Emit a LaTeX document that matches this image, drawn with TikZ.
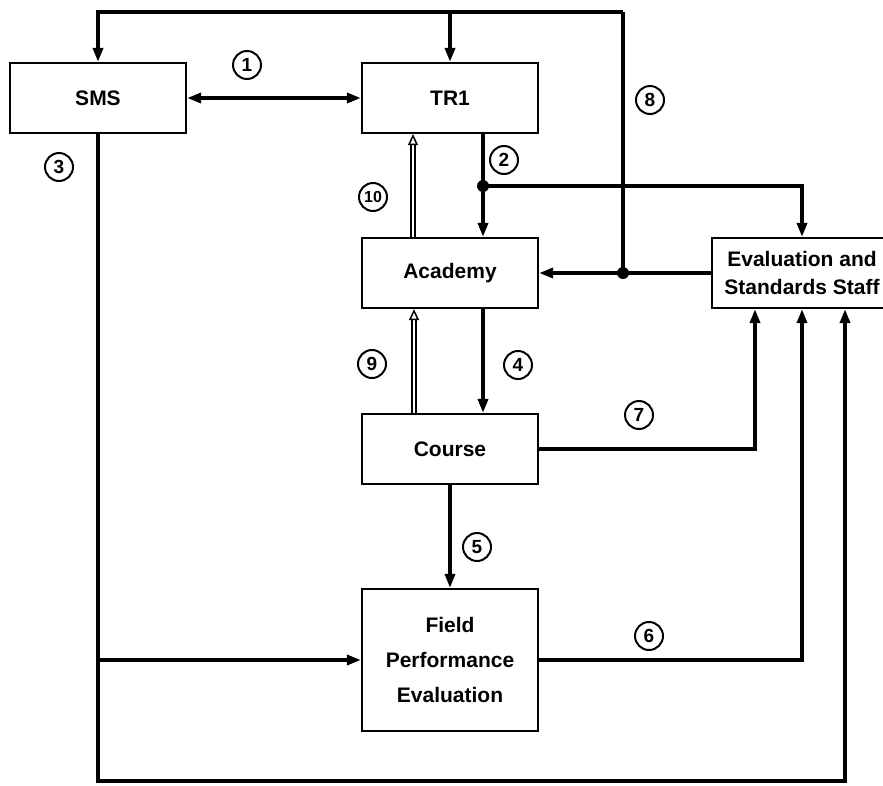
\documentclass[tikz,border=0pt]{standalone}
\usepackage{fontspec}
\setmainfont{Liberation Sans}
\usetikzlibrary{arrows.meta}
\begin{document}
\begin{tikzpicture}[x=1pt, y=-1pt,
    >={Triangle[length=14pt, width=10pt]},
    box/.style={draw, line width=2.2pt, minimum width=176pt, minimum height=70pt,
        inner sep=0pt, align=center, font=\fontsize{21}{28}\selectfont\bfseries},
    conn/.style={line width=3.4pt},
    hollow/.style={line width=1.5pt, double=white, double distance=2.6pt,
        -{Triangle[open, length=11pt, width=10pt, line width=1.5pt]}},
    num/.style={draw, circle, line width=2pt, minimum size=28pt, inner sep=0pt,
        font=\fontsize{19}{19}\selectfont\bfseries}]
    \useasboundingbox (0,0) rectangle (883,785);
    % Cajas
    \node[box] (sms) at (98,98) {SMS};
    \node[box] (tr1) at (450,98) {TR1};
    \node[box] (acad) at (450,273) {Academy};
    \node[box] (crs) at (450,449) {Course};
    \node[box, minimum height=142pt, font=\fontsize{21}{35}\selectfont\bfseries]
        (field) at (450,660) {Field\\Performance\\Evaluation};
    \node[box, minimum width=180pt] (eval) at (802,273) {Evaluation and\\Standards Staff};
    % Puntos de cruce
    \coordinate (dota) at (483,186);
    \coordinate (dotb) at (623,273);
    \coordinate (top) at (623,12);
    \coordinate (bot) at (845,781);
    % Flechas
    \draw[conn, <->] (sms.east) -- (tr1.west);
    \draw[conn, ->] (tr1.south -| dota) -- (acad.north -| dota);
    \draw[conn, ->] (dota) -| (eval.north);
    \draw[conn, ->] (sms.south) |- (bot) -- (eval.south -| bot);
    \draw[conn, ->] (sms.south |- field.west) -- (field.west);
    \draw[conn, ->] (acad.south -| dota) -- (crs.north -| dota);
    \draw[conn, ->] (crs.south) -- (field.north);
    \draw[conn, ->] (field.east) -| (eval.south);
    \draw[conn, ->] (crs.east) -| ([xshift=-47pt]eval.south);
    \draw[conn, ->] (eval.west) -- (acad.east);
    \draw[conn] (dotb) -- (top);
    \draw[conn, ->] (top) -| (sms.north);
    \draw[conn, ->] (tr1.north |- top) -- (tr1.north);
    \draw[hollow] ([xshift=-36pt]crs.north) -- ([xshift=-36pt]acad.south);
    \draw[hollow] ([xshift=-37pt]acad.north) -- ([xshift=-37pt]tr1.south);
    \fill (dota) circle[radius=6pt];
    \fill (dotb) circle[radius=6pt];
    % Numeros
    \node[num] (n1) at (247,65) {1};
    \node[num] (n2) at (504,160) {2};
    \node[num] (n3) at (59,167) {3};
    \node[num] (n4) at (518,365) {4};
    \node[num] (n5) at (477,547) {5};
    \node[num] (n6) at (649,636) {6};
    \node[num] (n7) at (639,415) {7};
    \node[num] (n8) at (650,100) {8};
    \node[num] (n9) at (372,364) {9};
    \node[num, font=\fontsize{16}{16}\selectfont\bfseries] (n10) at (373,197) {10};
\end{tikzpicture}
\end{document}
